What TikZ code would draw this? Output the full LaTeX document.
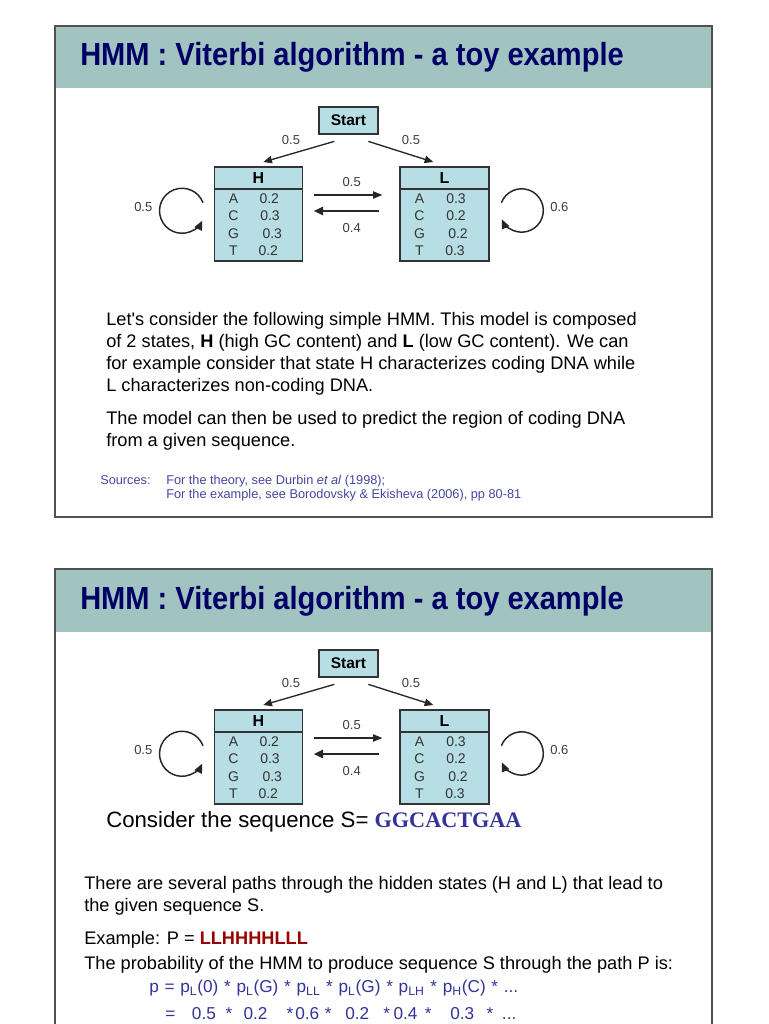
\documentclass[tikz,border=0pt]{standalone}
\usepackage{fontspec}
\setmainfont{Liberation Sans}
\newfontfamily\seqfont{Liberation Serif}
\usetikzlibrary{arrows.meta,calc}

\definecolor{hdr}{RGB}{162,196,192}
\definecolor{framec}{RGB}{80,80,80}
\definecolor{ttl}{RGB}{0,0,102}
\definecolor{boxfill}{RGB}{183,222,228}
\definecolor{boxline}{RGB}{51,51,51}
\definecolor{lbl}{RGB}{60,60,60}
\definecolor{srcc}{RGB}{70,70,160}
\definecolor{seqc}{RGB}{51,51,153}
\definecolor{pathred}{RGB}{153,0,0}

\newcommand\psub[1]{\textsubscript{\fontsize{9.2pt}{10pt}\selectfont #1}}

\tikzset{
  statebox/.style={draw=boxline, fill=boxfill, line width=1pt, inner sep=0pt},
  conn/.style={-{Triangle[length=6.5pt,width=5.5pt]}, line width=1pt, draw=black!85},
  thinconn/.style={-{Triangle[length=7pt,width=5.5pt]}, line width=0.8pt, draw=black!85},
  thickconn/.style={-{Triangle[length=7pt,width=6pt]}, line width=1.8pt, draw=black!85},
  loopconn/.style={-{Triangle[length=7pt,width=6pt]}, line width=1.1pt, draw=black!85},
  plbl/.style={text=lbl, font=\fontsize{9.75pt}{11pt}\selectfont, inner sep=0pt},
  rowtxt/.style={text=black!80, font=\fontsize{10.5pt}{12pt}\selectfont, inner sep=0pt},
  hdrtxt/.style={font=\bfseries\fontsize{12pt}{14pt}\selectfont, inner sep=0pt},
  titletxt/.style={text=ttl, font=\bfseries\fontsize{24pt}{28pt}\selectfont, anchor=base west, inner sep=0pt},
  bodytxt/.style={font=\fontsize{13.65pt}{16.5pt}\selectfont, anchor=base west, inner sep=0pt},
  srctxt/.style={text=srcc, font=\fontsize{9.56pt}{11pt}\selectfont, anchor=base west, inner sep=0pt},
  eqtxt/.style={text=seqc, font=\fontsize{12.9pt}{15pt}\selectfont, anchor=base west, inner sep=0pt},
  eqstar/.style={text=seqc, font=\fontsize{12.9pt}{15pt}\selectfont, anchor=base, inner sep=0pt},
}

\newcommand\hmmdiag[1]{%
  \node[statebox, minimum width=44.25pt, minimum height=20.25pt,
        font=\bfseries\fontsize{11.6pt}{13pt}\selectfont] (start#1) at (348.5,120.5) {Start};
  \node[statebox, minimum width=66pt, minimum height=70.5pt] (H#1) at (258.5,214) {};
  \node[statebox, minimum width=66.75pt, minimum height=70.5pt] (L#1) at (444.5,214) {};
  \draw[boxline, line width=1pt] ($(H#1.north west)+(0,22.5)$) -- ($(H#1.north east)+(0,22.5)$);
  \draw[boxline, line width=1pt] ($(L#1.north west)+(0,22.5)$) -- ($(L#1.north east)+(0,22.5)$);
  \node[hdrtxt] (Hn#1) at (258.5,178) {H};
  \node[hdrtxt] (Ln#1) at (444.5,178) {L};
  % emission rows H
  \node[rowtxt] (HA#1) at (233.5,198.3) {A};
  \node[rowtxt] (HC#1) at (233.5,215.5) {C};
  \node[rowtxt] (HG#1) at (233.5,233.5) {G};
  \node[rowtxt] (HT#1) at (233.5,250.3) {T};
  \node[rowtxt, anchor=west] (HAv#1) at (259.3,198.3) {0.2};
  \node[rowtxt, anchor=west] (HCv#1) at (260,215.5) {0.3};
  \node[rowtxt, anchor=west] (HGv#1) at (262.3,233.5) {0.3};
  \node[rowtxt, anchor=west] (HTv#1) at (258.3,250.3) {0.2};
  % emission rows L
  \node[rowtxt] (LA#1) at (419.5,198.3) {A};
  \node[rowtxt] (LC#1) at (419.5,215.5) {C};
  \node[rowtxt] (LG#1) at (419.5,233.5) {G};
  \node[rowtxt] (LT#1) at (419.5,250.3) {T};
  \node[rowtxt, anchor=west] (LAv#1) at (446,198.3) {0.3};
  \node[rowtxt, anchor=west] (LCv#1) at (446,215.5) {0.2};
  \node[rowtxt, anchor=west] (LGv#1) at (448,233.5) {0.2};
  \node[rowtxt, anchor=west] (LTv#1) at (445,250.3) {0.3};
  % start transitions
  \draw[conn] ($(start#1.south)+(-14.2,6.7)$) -- ($(H#1.north)+(4.8,-4.3)$);
  \draw[conn] ($(start#1.south)+(19.8,6.7)$) -- ($(L#1.north)+(-11.2,-4.3)$);
  % H <-> L
  \draw[thinconn] ($(H#1.east)+(11,-19)$) -- ($(L#1.west)+(-17,-19)$);
  \draw[thickconn] ($(L#1.west)+(-20.5,-3)$) -- ($(H#1.east)+(10.5,-3)$);
  % self loops
  \draw[loopconn] ($(H#1.west)+(-10.8,-11.3)$) arc[start angle=-21, end angle=-334, radius=22.5];
  \draw[loopconn] ($(L#1.east)+(11.7,-11.3)$) arc[start angle=-159, end angle=156, radius=21.7];
  % labels
  \node[plbl] (lsh#1) at (291,140.5) {0.5};
  \node[plbl] (lsl#1) at (411,140.5) {0.5};
  \node[plbl] (lhl#1) at (351.7,182) {0.5};
  \node[plbl] (llh#1) at (351.7,228.3) {0.4};
  \node[plbl] (lhh#1) at (143.3,207) {0.5};
  \node[plbl] (lll#1) at (559.3,207) {0.6};
}

\begin{document}
\begin{tikzpicture}[x=0.75pt,y=-0.75pt]
\useasboundingbox (0,0) rectangle (768,1024);
\fill[white] (0,0) rectangle (768,1024);

% ---------- slide 1 ----------
\fill[hdr] (55,26) rectangle (712,88);
\draw[framec, line width=1.5pt] (55,26) rectangle (712,517);
\node[titletxt] (title1) at (80,66) {\scalebox{0.908}[1]{HMM : Viterbi algorithm - a toy example}};

\hmmdiag{a}

\node[bodytxt] (p1l1) at (106,325) {Let\textquotesingle s consider the following simple HMM. This model is composed};
\node[bodytxt] (p1l2) at (106,347) {of 2 states, \textbf{H} (high GC content) and \textbf{L} (low GC content). We can};
\node[bodytxt] (p1l3) at (106,369) {for example consider that state H characterizes coding DNA while};
\node[bodytxt] (p1l4) at (106,391) {L characterizes non-coding DNA.};
\node[bodytxt] (p2l1) at (106,424) {The model can then be used to predict the region of coding DNA};
\node[bodytxt] (p2l2) at (106,446) {from a given sequence.};

\node[srctxt] (srclab) at (100,484.5) {Sources:};
\node[srctxt] (src1) at (166,484.5) {For the theory, see Durbin \textit{et al} (1998);};
\node[srctxt] (src2) at (166,498.5) {For the example, see Borodovsky \& Ekisheva (2006), pp 80-81};

% ---------- slide 2 ----------
\fill[hdr] (55,569) rectangle (712,632);
\draw[framec, line width=1.5pt] (55,1032) -- (55,569) -- (712,569) -- (712,1032);
\node[titletxt] (title2) at (80,609) {\scalebox{0.908}[1]{HMM : Viterbi algorithm - a toy example}};

\begin{scope}[shift={(0,543)}]
\hmmdiag{b}
\end{scope}

\node[bodytxt, font=\fontsize{16.65pt}{19pt}\selectfont] (cons) at (106,827)
  {Consider the sequence S= {\seqfont\bfseries\color{seqc}GGCACTGAA}};
\node[bodytxt] (s2l1) at (84,889) {There are several paths through the hidden states (H and L) that lead to};
\node[bodytxt] (s2l2) at (84,911) {the given sequence S.};
\node[bodytxt] (s2l3) at (84,944) {Example: P = \textbf{\color{pathred}LLHHHHLLL}};
\node[bodytxt] (s2l4) at (84,969) {The probability of the HMM to produce sequence S through the path P is:};

% first formula line
\node[eqtxt] (eq1) at (149,992.5) {\spaceskip=4.3pt\relax p = p\psub{L}(0) * p\psub{L}(G) * p\psub{LL} * p\psub{L}(G) * p\psub{LH} * p\psub{H}(C) * ...};

% second formula line
\node[eqtxt] (eqb1) at (165,1019) {=};
\node[eqtxt] (eqb2) at (191.7,1019) {0.5};
\node[eqstar] (eqb3) at (229,1019) {*};
\node[eqtxt] (eqb4) at (243.3,1019) {0.2};
\node[eqstar] (eqb5) at (290,1019) {*};
\node[eqtxt] (eqb6) at (295,1019) {0.6};
\node[eqstar] (eqb7) at (328.3,1019) {*};
\node[eqtxt] (eqb8) at (345,1019) {0.2};
\node[eqstar] (eqb9) at (386.7,1019) {*};
\node[eqtxt] (eqb10) at (393.3,1019) {0.4};
\node[eqstar] (eqb11) at (428.3,1019) {*};
\node[eqtxt] (eqb12) at (450,1019) {0.3};
\node[eqstar] (eqb13) at (490,1019) {*};
\node[eqtxt] (eqb14) at (501.7,1019) {...};
\end{tikzpicture}
\end{document}
